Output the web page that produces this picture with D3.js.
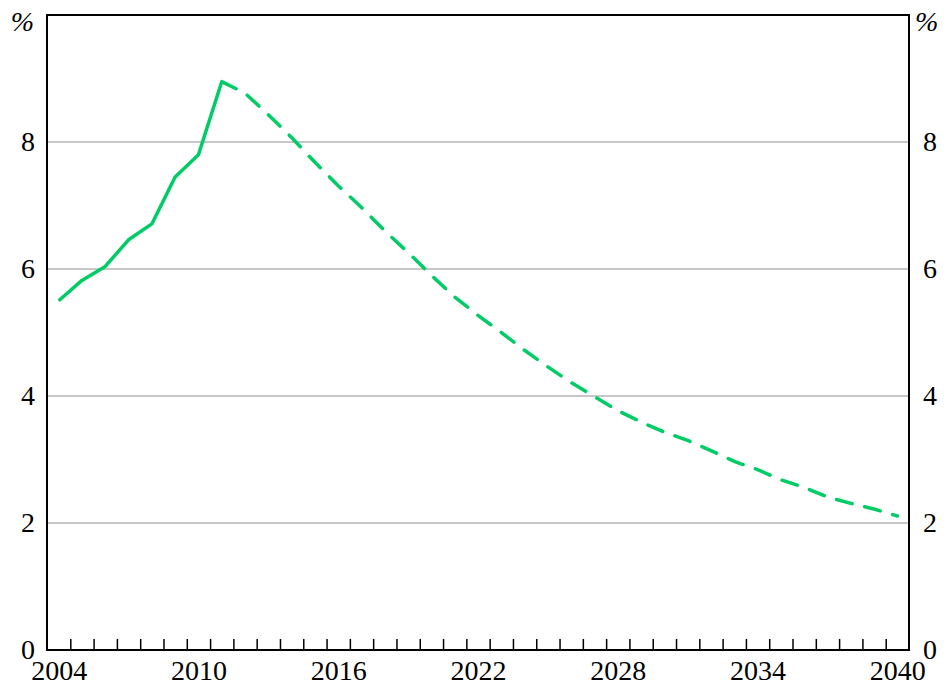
<!DOCTYPE html>
<html>
<head>
<meta charset="utf-8">
<script src="https://cdn.jsdelivr.net/npm/d3@7"></script>
<style>
  body { margin: 0; background: #fff; }
  svg { display: block; }
  .axis path { display: none; }
</style>
</head>
<body>
<div id="chart"></div>
<script>
// actual (solid) and projected (dashed) values, %
var actualYears = [2004, 2005, 2006, 2007, 2008, 2009, 2010, 2011];
var actualValues = [5.50, 5.82, 6.04, 6.46, 6.71, 7.45, 7.80, 8.95];

var projYears = [2011, 2012, 2013, 2014, 2015, 2016, 2017, 2018, 2019, 2020,
  2021, 2022, 2023, 2024, 2025, 2026, 2027, 2028, 2029, 2030,
  2031, 2032, 2033, 2034, 2035, 2036, 2037, 2038, 2039, 2040];
var projValues = [8.95, 8.77, 8.43, 8.07, 7.68, 7.31, 6.97, 6.60, 6.26, 5.90,
  5.56, 5.27, 5.00, 4.72, 4.46, 4.21, 3.99, 3.77, 3.59, 3.43,
  3.30, 3.14, 2.97, 2.84, 2.68, 2.56, 2.41, 2.31, 2.22, 2.11];

var yearLabels = [2004, 2010, 2016, 2022, 2028, 2034, 2040];
var yTicks = [0, 2, 4, 6, 8];

var serif = "'Times New Roman', Times, 'Liberation Serif', 'Nimbus Roman', serif";

var margin = { top: 15, right: 37, bottom: 39, left: 47 },
  width = 946 - margin.left - margin.right,
  height = 689 - margin.top - margin.bottom;

// each year is a band; points sit in the middle of it
var x = d3.scaleLinear().domain([2004, 2041]).range([0, width]);
var y = d3.scaleLinear().domain([0, 10]).range([height, 0]);

var svg = d3.select("#chart")
  .append("svg")
  .attr("width", width + margin.left + margin.right)
  .attr("height", height + margin.top + margin.bottom)
  .append("g")
  .attr("transform", "translate(" + margin.left + "," + margin.top + ")");

// gridlines
svg.selectAll(".grid")
  .data(yTicks.filter(function (d) { return d > 0; }))
  .enter()
  .append("line")
  .attr("x1", 0).attr("x2", width)
  .attr("y1", function (d) { return y(d); })
  .attr("y2", function (d) { return y(d); })
  .attr("stroke", "#b4b4b4")
  .attr("stroke-width", 1.5);

// year tick marks pointing inward
var tickYears = d3.range(2005, 2041);
svg.append("g")
  .attr("class", "axis")
  .attr("transform", "translate(0," + height + ")")
  .call(d3.axisBottom(x).tickValues(tickYears).tickFormat("").tickSize(-11))
  .selectAll("line").attr("stroke", "#000").attr("stroke-width", 1.5);

function styleText(g) {
  g.attr("font-family", serif).attr("font-size", 28);
  g.selectAll("text").attr("fill", "#000");
}

// year labels
svg.append("g")
  .attr("class", "axis")
  .attr("transform", "translate(0," + height + ")")
  .call(d3.axisBottom(x).tickValues(yearLabels.map(function (d) { return d + 0.5; }))
    .tickFormat(function (d) { return Math.floor(d); }).tickSize(0).tickPadding(10))
  .call(styleText)
  .selectAll("text").attr("dy", "0.71em");

// left and right value labels
svg.append("g")
  .attr("class", "axis")
  .call(d3.axisLeft(y).tickValues(yTicks).tickSize(0).tickPadding(12))
  .call(styleText);
svg.append("g")
  .attr("class", "axis")
  .attr("transform", "translate(" + width + ",0)")
  .call(d3.axisRight(y).tickValues(yTicks).tickSize(0).tickPadding(14))
  .call(styleText);

// units
svg.append("text")
  .attr("x", -13).attr("y", 16)
  .attr("text-anchor", "end")
  .attr("font-family", serif)
  .attr("font-style", "italic")
  .attr("font-size", 28)
  .text("%");
svg.append("text")
  .attr("x", width + 6).attr("y", 16)
  .attr("font-family", serif)
  .attr("font-style", "italic")
  .attr("font-size", 28)
  .text("%");

var line = d3.line()
  .x(function (d) { return x(d[0] + 0.5); })
  .y(function (d) { return y(d[1]); });

svg.append("path")
  .datum(d3.zip(actualYears, actualValues))
  .attr("d", line)
  .attr("fill", "none")
  .attr("stroke", "#00cc66")
  .attr("stroke-width", 3.5)
  .attr("stroke-linejoin", "round");

svg.append("path")
  .datum(d3.zip(projYears, projValues))
  .attr("d", line)
  .attr("fill", "none")
  .attr("stroke", "#00cc66")
  .attr("stroke-width", 3.5)
  .attr("stroke-linecap", "round")
  .attr("stroke-dasharray", "16,13");

// frame
svg.append("rect")
  .attr("x", 0).attr("y", 0)
  .attr("width", width).attr("height", height)
  .attr("fill", "none")
  .attr("stroke", "#000")
  .attr("stroke-width", 2);
</script>
</body>
</html>
